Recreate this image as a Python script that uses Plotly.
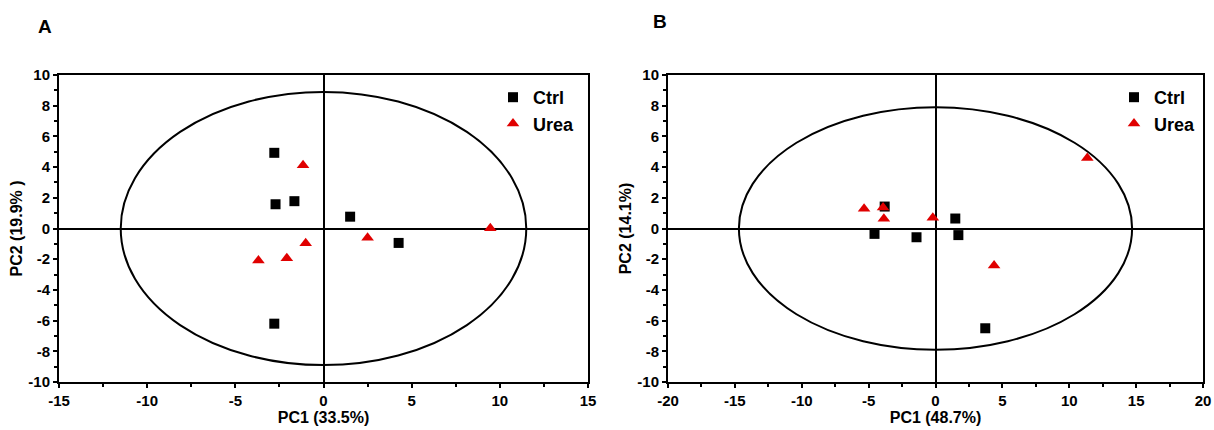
import plotly.graph_objects as go

# Panel A data
a_ctrl_x = [-2.79, -2.72, -1.65, 1.51, 4.26, -2.79]
a_ctrl_y = [4.93, 1.58, 1.78, 0.77, -0.94, -6.2]
a_urea_x = [-1.16, -1.01, -3.69, -2.08, 2.50, 9.46]
a_urea_y = [4.12, -0.96, -2.08, -1.93, -0.61, 0.02]
a_ellipse = [11.5, 8.9]

# Panel B data
b_ctrl_x = [-3.80, -4.56, -1.42, 1.48, 1.71, 3.72]
b_ctrl_y = [1.43, -0.35, -0.57, 0.65, -0.43, -6.5]
b_urea_x = [-5.34, -3.92, -3.86, -0.2, 4.38, 11.35]
b_urea_y = [1.28, 1.37, 0.63, 0.7, -2.41, 4.59]
b_ellipse = [14.7, 7.9]

# Tick labels
a_xticks = [-15, -10, -5, 0, 5, 10, 15]
b_xticks = [-20, -15, -10, -5, 0, 5, 10, 15, 20]
y_ticks = [-10, -8, -6, -4, -2, 0, 2, 4, 6, 8, 10]

x_titles = ["PC1 (33.5%)", "PC1 (48.7%)"]
y_titles = ["PC2 (19.9% )", "PC2 (14.1%)"]
panel_labels = ["A", "B"]

FONT = "Liberation Sans, Arial, sans-serif"
tickfont = dict(family=FONT, size=15, color="black")
titlefont = dict(family=FONT, size=16, color="black")

fig = go.Figure()

panels = [
    (a_ctrl_x, a_ctrl_y, a_urea_x, a_urea_y, a_ellipse, "x", "y", "legend"),
    (b_ctrl_x, b_ctrl_y, b_urea_x, b_urea_y, b_ellipse, "x2", "y2", "legend2"),
]
for cx, cy, ux, uy, ell, xa, ya, lg in panels:
    fig.add_trace(go.Scatter(x=cx, y=cy, mode="markers", name="<b>Ctrl</b>",
                             marker=dict(symbol="square", size=10, color="black"),
                             xaxis=xa, yaxis=ya, legend=lg))
    fig.add_trace(go.Scatter(x=ux, y=uy, mode="markers", name="<b>Urea</b>",
                             marker=dict(symbol="triangle-up", size=11, color="#e00000"),
                             xaxis=xa, yaxis=ya, legend=lg))
    fig.add_shape(type="circle", xref=xa, yref=ya, x0=-ell[0], x1=ell[0],
                  y0=-ell[1], y1=ell[1], line=dict(color="black", width=2),
                  layer="below")

def lbl(vals):
    return ["<b>%d</b>" % v for v in vals]

def xaxis(rng, dom, anchor, title, ticks):
    return dict(domain=dom, anchor=anchor, range=rng, automargin=False,
                tickvals=ticks, ticktext=lbl(ticks),
                showgrid=False, zeroline=True, zerolinecolor="black", zerolinewidth=2,
                showline=True, linecolor="black", linewidth=2, mirror=True,
                ticks="outside", ticklen=4, tickwidth=2, tickcolor="black",
                minor=dict(dtick=2.5, ticks="outside", ticklen=3, tickwidth=1.5, tickcolor="black"),
                tickfont=tickfont,
                title=dict(text="<b>%s</b>" % title, font=titlefont, standoff=0))

def yaxis(dom, anchor, title):
    return dict(domain=dom, anchor=anchor, range=[-10, 10], automargin=False,
                tickvals=y_ticks, ticktext=lbl(y_ticks),
                showgrid=False, zeroline=True, zerolinecolor="black", zerolinewidth=2,
                showline=True, linecolor="black", linewidth=2, mirror=True,
                ticks="outside", ticklen=4, tickwidth=2, tickcolor="black",
                minor=dict(dtick=1, ticks="outside", ticklen=3, tickwidth=1.5, tickcolor="black"),
                tickfont=tickfont,
                title=dict(text="<b>%s</b>" % title, font=titlefont, standoff=2))

ydom = [1 - 382 / 430, 1 - 75 / 430]
legfont = dict(family=FONT, size=18, color="black")
fig.update_layout(
    width=1214, height=430, margin=dict(l=0, r=0, t=0, b=0),
    paper_bgcolor="white", plot_bgcolor="white",
    xaxis=xaxis([-15, 15], [59 / 1214, 588 / 1214], "y", x_titles[0], a_xticks),
    yaxis=yaxis(ydom, "x", y_titles[0]),
    xaxis2=xaxis([-20, 20], [668 / 1214, 1203 / 1214], "y2", x_titles[1], b_xticks),
    yaxis2=yaxis(ydom, "x2", y_titles[1]),
    legend=dict(x=580 / 1214, y=1 - 79 / 430, xanchor="right", yanchor="top",
                font=legfont, bgcolor="rgba(0,0,0,0)", itemwidth=30, tracegroupgap=0),
    legend2=dict(x=1201 / 1214, y=1 - 79 / 430, xanchor="right", yanchor="top",
                 font=legfont, bgcolor="rgba(0,0,0,0)", itemwidth=30, tracegroupgap=0),
    showlegend=True,
)

fig.add_annotation(text="<b>%s</b>" % panel_labels[0], x=45 / 1214, y=1 - 27 / 430,
                   xref="paper", yref="paper", showarrow=False, xanchor="center", yanchor="middle",
                   font=dict(family=FONT, size=19, color="black"))
fig.add_annotation(text="<b>%s</b>" % panel_labels[1], x=660 / 1214, y=1 - 22 / 430,
                   xref="paper", yref="paper", showarrow=False, xanchor="center", yanchor="middle",
                   font=dict(family=FONT, size=19, color="black"))

fig.write_html("out.html")
